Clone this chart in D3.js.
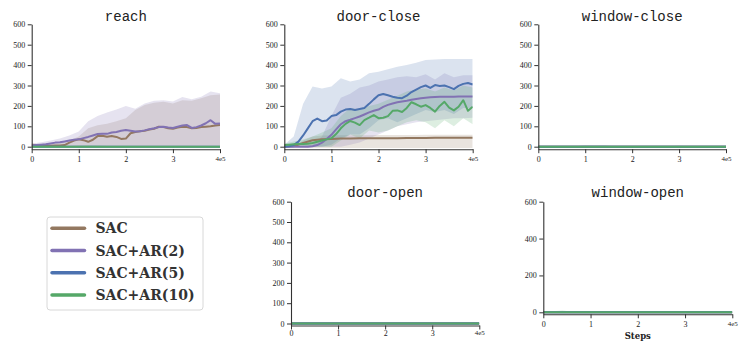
<!DOCTYPE html>
<html>
<head>
<meta charset="utf-8">
<script src="https://cdn.jsdelivr.net/npm/d3@7"></script>
<style>
  body { margin: 0; background: #fff; }
  svg { display: block; opacity: 0.999; }
  .tick text { font-family: "Liberation Serif", serif; fill: #1a1a1a; }
  .title { font-family: "Liberation Mono", monospace; font-size: 14px; fill: #222; }
</style>
</head>
<body>
<div id="chart"></div>
<script>
// x grid, in units of 1e5 steps
const steps41 = [0, 0.1, 0.2, 0.3, 0.4, 0.5, 0.6, 0.7, 0.8, 0.9, 1.0, 1.1, 1.2, 1.3, 1.4, 1.5, 1.6, 1.7, 1.8, 1.9, 2.0,
  2.1, 2.2, 2.3, 2.4, 2.5, 2.6, 2.7, 2.8, 2.9, 3.0, 3.1, 3.2, 3.3, 3.4, 3.5, 3.6, 3.7, 3.8, 3.9, 4.0];
const steps21 = [0, 0.2, 0.4, 0.6, 0.8, 1.0, 1.2, 1.4, 1.6, 1.8, 2.0, 2.2, 2.4, 2.6, 2.8, 3.0, 3.2, 3.4, 3.6, 3.8, 4.0];

const methods = ["SAC", "SAC+AR(2)", "SAC+AR(5)", "SAC+AR(10)"];
const xTicks = [0, 1, 2, 3, 4];

const zeros = [0, 0, 0, 0, 0, 0, 0, 0, 0, 0, 0, 0, 0, 0, 0, 0, 0, 0, 0, 0, 0];
const flatLow = [-3, -3, -3, -3, -3, -3, -3, -3, -3, -3, -3, -3, -3, -3, -3, -3, -3, -3, -3, -3, -3];
const flatHigh = [2, 2, 2, 2, 2, 2, 2, 2, 2, 2, 2, 2, 2, 2, 2, 2, 2, 2, 2, 2, 2];

// reach
const reachSac = [10, 8, 6, 6, 5, 6, 6, 8, 20, 30, 36, 32, 24, 34, 52, 54, 49, 52, 48, 38, 40,
  66, 72, 76, 78, 84, 88, 98, 96, 90, 88, 94, 98, 96, 90, 92, 96, 98, 100, 104, 106];
const reachSacHi = [12, 14, 16, 20, 30, 50, 90, 105, 112, 125, 140, 180, 205, 215, 220, 212, 228, 225, 238, 252, 256];
const reachAr2 = [6, 8, 10, 12, 16, 20, 22, 26, 30, 34, 36, 42, 48, 55, 62, 64, 63, 70, 72, 78, 82,
  78, 74, 76, 80, 86, 90, 96, 98, 94, 92, 98, 104, 106, 92, 96, 104, 115, 130, 112, 114];
const reachAr2Hi = [14, 22, 30, 40, 55, 75, 125, 150, 168, 182, 200, 186, 212, 225, 228, 222, 244, 232, 245, 270, 262];
const reachAr10Hi = [3, 3, 3, 3, 4, 6, 7, 6, 3, 3, 3, 3, 3, 3, 3, 3, 3, 3, 3, 3, 3];

// door-close
const doorCloseSac = [0, 2, 18, 32, 36, 38, 40, 40, 41, 41, 42, 42, 42, 43, 43, 43, 44, 44, 44, 44, 44];
const doorCloseSacHi = [0, 5, 30, 50, 55, 55, 56, 56, 56, 56, 57, 57, 57, 57, 57, 58, 58, 58, 58, 58, 58];
const doorCloseSacLo = [0, 0, -4, -6, -6, -6, -6, -6, -6, -6, -6, -6, -6, -6, -6, -6, -6, -6, -6, -6, -6];
const doorCloseAr2 = [0, 0, 0, 0, 0, 0, 2, 8, 20, 38, 58, 85, 110, 125, 132, 140, 148, 158, 168, 176, 182,
  195, 205, 212, 218, 222, 225, 230, 234, 238, 240, 242, 244, 245, 245, 245, 245, 246, 246, 246, 246];
const doorCloseAr2Hi = [2, 3, 5, 10, 50, 150, 240, 260, 290, 300, 320, 330, 340, 345, 340, 355, 330, 360, 340, 350, 350];
const doorCloseAr2Lo = [0, 0, 0, 0, 0, 0, 0, 10, 20, 40, 60, 80, 100, 110, 120, 125, 130, 135, 140, 140, 142];
const doorCloseAr5 = [0, 2, 8, 25, 55, 90, 125, 138, 125, 128, 150, 155, 172, 182, 185, 180, 185, 190, 210, 232, 252,
  258, 252, 245, 240, 238, 250, 268, 280, 292, 300, 288, 302, 298, 300, 292, 282, 298, 308, 312, 305];
const doorCloseAr5Hi = [10, 50, 210, 295, 285, 295, 335, 320, 330, 360, 368, 380, 392, 400, 412, 425, 428, 430, 430, 430, 430];
const doorCloseAr5Lo = [0, 0, 0, 0, 0, 10, 40, 60, 60, 90, 130, 140, 120, 140, 160, 180, 170, 180, 160, 190, 190];
const doorCloseAr10 = [8, 10, 12, 13, 13, 14, 18, 24, 30, 36, 42, 62, 90, 112, 126, 118, 106, 130, 142, 155, 140,
  142, 150, 176, 178, 170, 190, 218, 208, 196, 204, 190, 172, 200, 220, 192, 178, 196, 228, 176, 196];
const doorCloseAr10Hi = [15, 25, 35, 50, 70, 90, 150, 190, 180, 200, 210, 230, 250, 270, 280, 285, 270, 290, 275, 300, 290];
const doorCloseAr10Lo = [0, 0, 0, 0, 0, 0, 30, 60, 40, 80, 70, 80, 100, 120, 130, 120, 90, 130, 100, 140, 110];

// window-close
const windowCloseAr5Hi = [2, 2, 2, 2, 2, 7, 6, 7, 2, 2, 2, 2, 2, 2, 2, 5, 2, 2, 2, 2, 2];
// window-open
const windowOpenAr10Hi = [2, 6, 10, 4, 2, 2, 2, 2, 2, 2, 2, 2, 2, 2, 2, 2, 2, 2, 2, 2, 2];

// per panel: [mean, lo, hi] for each method
const panelData = {
  "reach": [
    [reachSac, zeros, reachSacHi],
    [reachAr2, zeros, reachAr2Hi],
    [zeros, zeros, flatHigh],
    [zeros, zeros, reachAr10Hi]
  ],
  "door-close": [
    [doorCloseSac, doorCloseSacLo, doorCloseSacHi],
    [doorCloseAr2, doorCloseAr2Lo, doorCloseAr2Hi],
    [doorCloseAr5, doorCloseAr5Lo, doorCloseAr5Hi],
    [doorCloseAr10, doorCloseAr10Lo, doorCloseAr10Hi]
  ],
  "window-close": [
    [zeros, flatLow, flatHigh],
    [zeros, flatLow, flatHigh],
    [zeros, flatLow, windowCloseAr5Hi],
    [zeros, flatLow, flatHigh]
  ],
  "door-open": [
    [zeros, flatLow, flatHigh],
    [zeros, flatLow, flatHigh],
    [zeros, flatLow, flatHigh],
    [zeros, flatLow, flatHigh]
  ],
  "window-open": [
    [zeros, flatLow, flatHigh],
    [zeros, flatLow, flatHigh],
    [zeros, flatLow, flatHigh],
    [zeros, flatLow, windowOpenAr10Hi]
  ]
};

const colors = ["#937860", "#8172b3", "#4c72b0", "#55a868"];

// layout (pixels)
const layout = [
  { name: "reach", x0: 31.7, x1: 220, yTop: 24.3, yZero: 146.7, axisY: 149.2, yTicks: [0, 100, 200, 300, 400, 500, 600], titleY: 20.5 },
  { name: "door-close", x0: 284.3, x1: 472.7, yTop: 24.3, yZero: 146.7, axisY: 149.2, yTicks: [0, 100, 200, 300, 400, 500, 600], titleY: 20.5 },
  { name: "window-close", x0: 538.3, x1: 726, yTop: 24.3, yZero: 146.7, axisY: 149.2, yTicks: [0, 100, 200, 300, 400, 500, 600], titleY: 20.5 },
  { name: "door-open", x0: 291, x1: 479.3, yTop: 201.7, yZero: 323.5, axisY: 325.5, yTicks: [0, 100, 200, 300, 400, 500, 600], titleY: 197, labPad: 1 },
  { name: "window-open", x0: 543.3, x1: 732.3, yTop: 201.7, yZero: 312.3, axisY: 314.3, yTicks: [0, 200, 400, 600], titleY: 197, labPad: 3, xlabel: "Steps" }
];

const W = 742, H = 341;
const svg = d3.select("#chart").append("svg")
  .attr("width", W)
  .attr("height", H);

layout.forEach(function (p) {
  const per = (p.yZero - p.yTop) / 600;
  const yMin = -(p.axisY - p.yZero) / per;
  const x = d3.scaleLinear().domain([0, 4]).range([p.x0, p.x1]);
  const y = d3.scaleLinear().domain([yMin, 600]).range([p.axisY, p.yTop]);

  const g = svg.append("g").attr("class", "panel");

  const clip = "clip-" + p.name;
  g.append("clipPath").attr("id", clip)
    .append("rect")
    .attr("x", p.x0).attr("y", p.yTop - 2)
    .attr("width", p.x1 - p.x0).attr("height", p.axisY - p.yTop + 2);

  const plot = g.append("g").attr("clip-path", "url(#" + clip + ")");
  const bandLayer = plot.append("g");
  const lineLayer = plot.append("g");

  panelData[p.name].forEach(function (s, i) {
    const mean = s[0], lo = s[1], hi = s[2];
    const bandXs = lo.length === 41 ? steps41 : steps21;
    const band = bandXs.map((t, j) => ({ t: t, lo: lo[j], hi: hi[j] }));
    bandLayer.append("path")
      .datum(band)
      .attr("fill", colors[i])
      .attr("fill-opacity", 0.2)
      .attr("d", d3.area().x(d => x(d.t)).y0(d => y(d.lo)).y1(d => y(d.hi)));

    const lineXs = mean.length === 41 ? steps41 : steps21;
    const pts = lineXs.map((t, j) => ({ t: t, v: mean[j] }));
    lineLayer.append("path")
      .datum(pts)
      .attr("fill", "none")
      .attr("stroke", colors[i])
      .attr("stroke-width", 2)
      .attr("stroke-linejoin", "round")
      .attr("d", d3.line().x(d => x(d.t)).y(d => y(d.v)));
  });

  // axes
  const yAxis = g.append("g")
    .attr("transform", "translate(" + p.x0 + ",0)")
    .call(d3.axisLeft(y).tickValues(p.yTicks).tickSize(4).tickPadding(2.5).tickSizeOuter(0));
  const xAxis = g.append("g")
    .attr("transform", "translate(0," + p.axisY + ")")
    .call(d3.axisBottom(x).tickValues(xTicks).tickSize(4)
      .tickPadding(p.labPad !== undefined ? p.labPad : 3)
      .tickSizeOuter(0)
      .tickFormat(d => d === 4 ? "4e5" : d));

  [yAxis, xAxis].forEach(function (a) {
    a.select(".domain").attr("stroke", "#333").attr("stroke-width", 1.1);
    a.selectAll(".tick line").attr("stroke", "#333").attr("stroke-width", 1);
    a.selectAll(".tick text").style("font-size", "8px");
  });
  xAxis.selectAll(".tick text").filter(d => d === 4).style("font-size", "7px");

  g.append("text")
    .attr("class", "title")
    .attr("x", (p.x0 + p.x1) / 2)
    .attr("y", p.titleY)
    .attr("text-anchor", "middle")
    .text(p.name);

  if (p.xlabel) {
    g.append("text")
      .attr("x", (p.x0 + p.x1) / 2)
      .attr("y", 339)
      .attr("text-anchor", "middle")
      .style("font-family", "DejaVu Serif, serif")
      .style("font-weight", "bold")
      .style("font-size", "8.5px")
      .style("fill", "#222")
      .text(p.xlabel);
  }
});

// legend
const legend = svg.append("g").attr("class", "legend");
legend.append("rect")
  .attr("x", 47).attr("y", 217)
  .attr("width", 156).attr("height", 93)
  .attr("rx", 3)
  .attr("fill", "#fff")
  .attr("stroke", "#d8d8d8")
  .attr("stroke-width", 1);

const ly = d3.scalePoint().domain(methods).range([228.3, 295]);
methods.forEach(function (m, i) {
  legend.append("line")
    .attr("x1", 52).attr("x2", 84.5)
    .attr("y1", ly(m)).attr("y2", ly(m))
    .attr("stroke", colors[i])
    .attr("stroke-width", 3.5)
    .attr("stroke-linecap", "round");
  legend.append("text")
    .attr("x", 95.5)
    .attr("y", ly(m) + 5)
    .style("font-family", "DejaVu Serif, serif")
    .style("font-weight", "bold")
    .style("font-size", "14px")
    .style("fill", "#333")
    .text(m);
});
</script>
</body>
</html>
